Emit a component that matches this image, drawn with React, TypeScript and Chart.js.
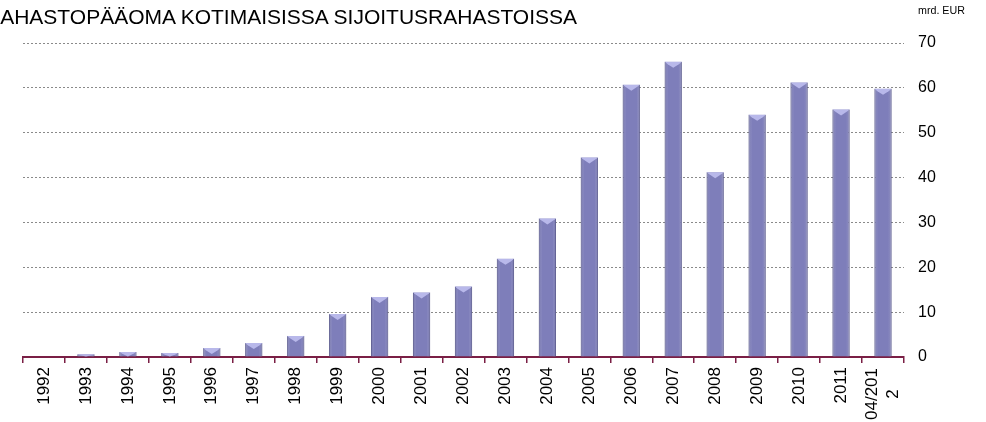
import React, { useEffect, useRef } from "react";
import { Chart, registerables } from "chart.js";

Chart.register(...registerables);

const categories: string[] = [
  "1992", "1993", "1994", "1995", "1996", "1997", "1998", "1999", "2000", "2001",
  "2002", "2003", "2004", "2005", "2006", "2007", "2008", "2009", "2010", "2011",
  "04/2012",
];
const tickLabels: string[][] = [
  ["1992"], ["1993"], ["1994"], ["1995"], ["1996"], ["1997"], ["1998"], ["1999"], ["2000"], ["2001"],
  ["2002"], ["2003"], ["2004"], ["2005"], ["2006"], ["2007"], ["2008"], ["2009"], ["2010"], ["2011"],
  ["04/201", "2"],
];
const values: number[] = [
  0.1, 0.6, 1.1, 0.9, 2.0, 3.1, 4.7, 9.6, 13.4, 14.4,
  15.7, 21.9, 30.9, 44.5, 60.7, 65.8, 41.2, 54.0, 61.2, 55.2, 59.8,
];
const yTicks: number[] = [0, 10, 20, 30, 40, 50, 60, 70];
const title = "RAHASTOPÄÄOMA KOTIMAISISSA SIJOITUSRAHASTOISSA";
const unit = "mrd. EUR";

const FONT = "'Liberation Sans', Arial, sans-serif";

const bevelPlugin = {
  id: "bevel",
  afterDatasetsDraw(chart: any) {
    const ctx = chart.ctx;
    const meta = chart.getDatasetMeta(0);
    ctx.save();
    meta.data.forEach((bar: any) => {
      const { x, y, base, width } = bar.getProps(["x", "y", "base", "width"], true);
      const h = base - y;
      if (h < 2) return;
      const l = x - width / 2;
      const r = x + width / 2;
      const g = ctx.createLinearGradient(l, 0, r, 0);
      g.addColorStop(0, "rgba(60,60,110,0.35)");
      g.addColorStop(0.2, "rgba(255,255,255,0)");
      g.addColorStop(0.8, "rgba(255,255,255,0)");
      g.addColorStop(1, "rgba(60,60,110,0.35)");
      ctx.fillStyle = g;
      ctx.fillRect(l, y, width, h);
      const bh = Math.min(6, h);
      ctx.fillStyle = "#b8b8ea";
      ctx.beginPath();
      ctx.moveTo(l, y);
      ctx.lineTo(r, y);
      ctx.lineTo(r - 3, y + bh * 0.4);
      ctx.lineTo(x, y + bh);
      ctx.lineTo(l + 3, y + bh * 0.4);
      ctx.closePath();
      ctx.fill();
    });
    ctx.restore();
  },
};

// draws multi-line x labels (rotated, lines centred on the tick)
const multiLabelPlugin = {
  id: "multiLabel",
  afterDraw(chart: any) {
    const scale = chart.scales.x;
    const ctx = chart.ctx;
    ctx.save();
    ctx.font = `17px ${FONT}`;
    ctx.fillStyle = "#000";
    tickLabels.forEach((lines, i) => {
      if (lines.length < 2) return;
      const px = scale.getPixelForTick(i);
      const lh = 21;
      const top = scale.top + 11;
      const w = Math.max(...lines.map((s) => ctx.measureText(s).width));
      lines.forEach((s, k) => {
        const cx = px + (k - (lines.length - 1) / 2) * lh;
        ctx.save();
        ctx.translate(cx, top + w / 2);
        ctx.rotate(-Math.PI / 2);
        ctx.textAlign = "center";
        ctx.textBaseline = "middle";
        ctx.fillText(s, 0, 0);
        ctx.restore();
      });
    });
    ctx.restore();
  },
};

export default function App() {
  const ref = useRef<HTMLCanvasElement>(null);
  useEffect(() => {
    if (!ref.current) return;
    const chart = new Chart(ref.current, {
      type: "bar",
      data: {
        labels: categories,
        datasets: [
          {
            data: values,
            backgroundColor: "#7e7eba",
            borderColor: "#6a6a9e",
            borderWidth: 1,
            barPercentage: 0.41,
            categoryPercentage: 1,
          },
        ],
      },
      options: {
        animation: false,
        responsive: false,
        maintainAspectRatio: false,
        layout: { padding: { left: 23, top: 43, right: 0, bottom: 0 } },
        plugins: { legend: { display: false }, tooltip: { enabled: false } },
        scales: {
          x: {
            grid: {
              offset: true,
              drawOnChartArea: false,
              drawTicks: true,
              tickLength: 6,
              color: "#7a1f45",
              lineWidth: 1.5,
            },
            border: { display: true, color: "#7a1f45", width: 2 },
            ticks: {
              color: "#000",
              font: { family: FONT, size: 17 },
              maxRotation: 90,
              minRotation: 90,
              autoSkip: false,
              padding: 4,
              callback: (_v: any, i: number) => (tickLabels[i].length > 1 ? "" : tickLabels[i][0]),
            },
            afterFit(scale: any) {
              scale.height = 65;
            },
          },
          y: {
            position: "right",
            min: 0,
            max: 70,
            afterBuildTicks(scale: any) {
              scale.ticks = yTicks.map((v) => ({ value: v }));
            },
            grid: {
              drawTicks: false,
              color: "#8a8a8a",
              lineWidth: 1,
            },
            border: { display: false, dash: [2, 2] },
            ticks: {
              color: "#000",
              font: { family: FONT, size: 16 },
              padding: 14,
              crossAlign: "near",
            },
            afterFit(scale: any) {
              scale.width = 82;
            },
          },
        },
      },
      plugins: [bevelPlugin, multiLabelPlugin],
    } as any);
    return () => chart.destroy();
  }, []);

  return (
    <div style={{ position: "absolute", left: 0, top: 0, width: 986, height: 422, overflow: "hidden", background: "#fff" }}>
      <canvas ref={ref} width={986} height={422} style={{ position: "absolute", left: 0, top: 0 }} />
      <div
        style={{
          position: "absolute",
          left: -15,
          top: 5,
          fontFamily: FONT,
          fontSize: 21,
          lineHeight: "24px",
          whiteSpace: "nowrap",
          color: "#000",
        }}
      >
        {title}
      </div>
      <div
        style={{
          position: "absolute",
          left: 918,
          top: 4,
          fontFamily: FONT,
          fontSize: 10.7,
          lineHeight: "12px",
          whiteSpace: "nowrap",
          color: "#000",
        }}
      >
        {unit}
      </div>
    </div>
  );
}
